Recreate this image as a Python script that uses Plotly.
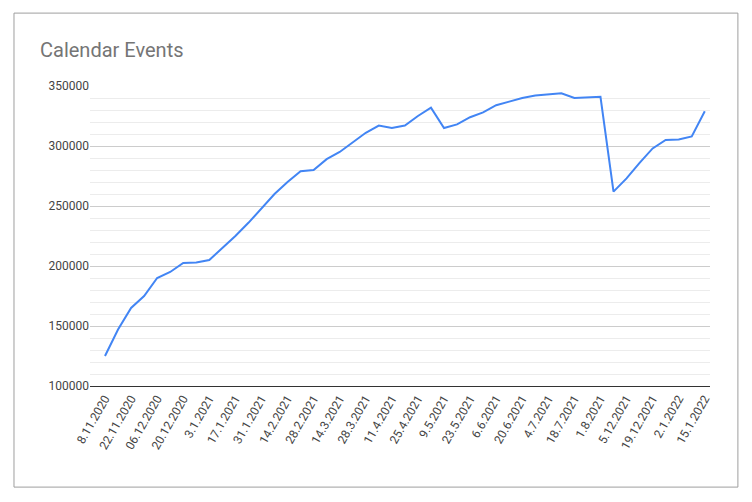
import plotly.graph_objects as go

dates = ["8.11.2020", "15.11.2020", "22.11.2020", "29.11.2020", "06.12.2020", "13.12.2020",
         "20.12.2020", "27.12.2020", "3.1.2021", "10.1.2021", "17.1.2021", "24.1.2021",
         "31.1.2021", "7.2.2021", "14.2.2021", "21.2.2021", "28.2.2021", "7.3.2021",
         "14.3.2021", "21.3.2021", "28.3.2021", "4.4.2021", "11.4.2021", "18.4.2021",
         "25.4.2021", "2.5.2021", "9.5.2021", "16.5.2021", "23.5.2021", "30.5.2021",
         "6.6.2021", "13.6.2021", "20.6.2021", "27.6.2021", "4.7.2021", "11.7.2021",
         "18.7.2021", "25.7.2021", "1.8.2021", "28.11.2021", "5.12.2021", "12.12.2021",
         "19.12.2021", "26.12.2021", "2.1.2022", "9.1.2022", "15.1.2022"]
events = [125000, 147000, 165000, 175000, 190000, 195000, 202500, 203000, 205000, 215000,
          225000, 236000, 248000, 260000, 270000, 279000, 280000, 289000, 295000, 303000,
          311000, 317000, 315000, 317000, 325000, 332000, 315000, 318000, 324000, 328000,
          334000, 337000, 340000, 342000, 343000, 344000, 340000, 340500, 341000, 262000,
          273000, 286000, 298000, 305000, 305500, 308000, 329000]
tick_labels = dates[::2]

fig = go.Figure(go.Scatter(x=dates, y=events, mode="lines",
                           line=dict(color="#4285f4", width=2)))

fig.update_layout(
    width=752, height=502,
    margin=dict(l=82, r=50, t=78, b=124),
    paper_bgcolor="white", plot_bgcolor="white",
    showlegend=False,
    title=dict(text="Calendar Events", x=32/752, xanchor="left", y=1-42/502, yanchor="middle",
               font=dict(family="Roboto", size=20, color="#757575")),
    font=dict(family="Roboto", size=12, color="#444444"),
    shapes=[dict(type="rect", xref="paper", yref="paper",
                 x0=-0.1226, x1=1.045, y0=-0.337, y1=1.243,
                 line=dict(color="#9e9e9e", width=1))],
)
fig.update_xaxes(type="category", range=[-1.15, 46.4], tickmode="array",
                 tickvals=tick_labels, ticktext=tick_labels, tickangle=-60,
                 showgrid=False, showline=True, linecolor="#333333", ticks="")
fig.update_yaxes(range=[100000, 350000], dtick=50000, tickformat="d", showgrid=True,
                 gridcolor="#cccccc", zeroline=False, ticks="",
                 minor=dict(dtick=10000, showgrid=True, gridcolor="#ececec"))

fig.write_html("out.html")
